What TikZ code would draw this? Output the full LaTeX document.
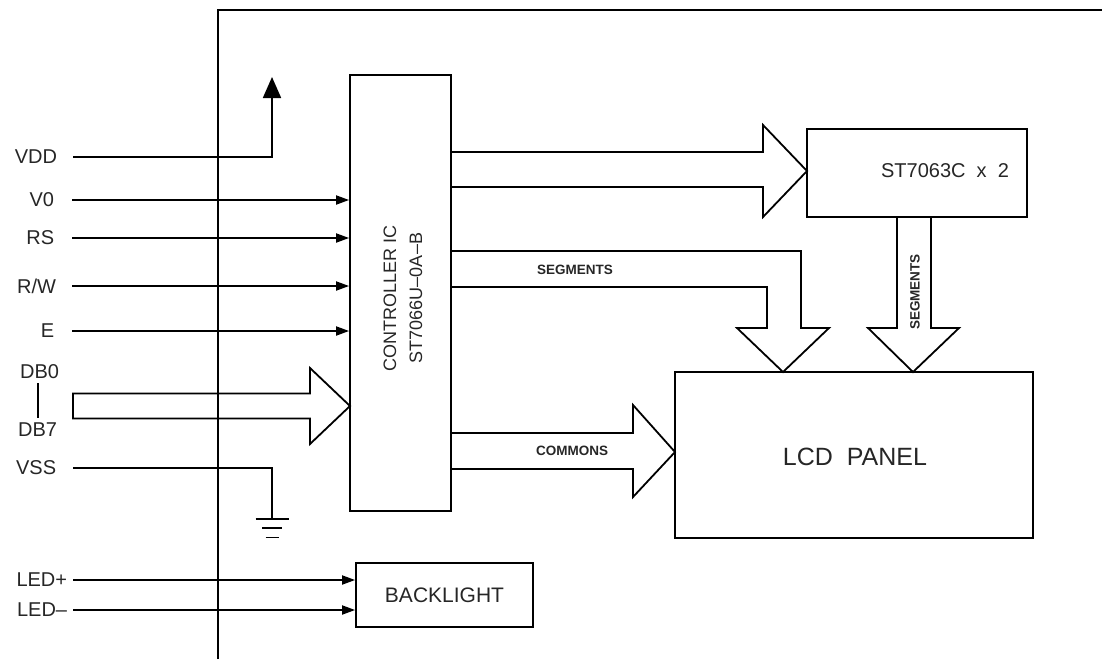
\documentclass[tikz,border=0pt]{standalone}
\usepackage{fontspec}
\setmainfont{Liberation Sans}
\usetikzlibrary{arrows.meta}
\begin{document}
\begin{tikzpicture}[x=1pt,y=-1pt, line width=1.8pt, line join=miter,
  lbl/.style={font=\fontsize{20}{22}\selectfont, inner sep=0pt, text=black!85},
  box/.style={draw, line width=1.8pt, inner sep=0pt},
  sig/.style={-{Triangle[length=13pt,width=9pt]}},
  small/.style={font=\fontsize{13.5}{14}\selectfont\bfseries, inner sep=0pt, text=black!85}]
\useasboundingbox (0,0) rectangle (1102,659);

% outer frame
\draw (218,659) -- (218,10) -- (1102,10);

% blocks
\node[box, minimum width=101pt, minimum height=436pt] (ctrl) at (400.5,293) {};
\node[lbl, rotate=90, align=center, font=\fontsize{18}{26}\selectfont] (ctrltxt) at (403,298) {CONTROLLER IC\\ST7066U–0A–B};
\node[box, minimum width=220pt, minimum height=88pt] (drv) at (917,173) {};
\node[lbl] (drvtxt) at (945,171) {ST7063C~~x~~2};
\node[box, minimum width=358pt, minimum height=166pt] (lcd) at (854,455) {};
\node[lbl, font=\fontsize{25}{28}\selectfont] (lcdtxt) at (855,457) {LCD~~PANEL};
\node[box, minimum width=177pt, minimum height=64pt, font=\fontsize{21}{22}\selectfont, text=black!85] (bl) at (444.5,595) {BACKLIGHT};

% VDD
\node[lbl, anchor=east] (vdd) at (58,157) {VDD};
\coordinate (vdds) at (73,157);
\coordinate (vddt) at (272,77);
\draw[-{Triangle[length=21pt,width=18pt]}] (vdds) -| (vddt);

% single inputs
\node[lbl, anchor=east] (v0) at (55,200) {V0};
\coordinate (v0s) at (72,200);
\draw[sig] (v0s) -- (v0s -| ctrl.west);
\node[lbl, anchor=east] (rs) at (55,238) {RS};
\coordinate (rss) at (72,238);
\draw[sig] (rss) -- (rss -| ctrl.west);
\node[lbl, anchor=east] (rw) at (57,286) {R/W};
\coordinate (rws) at (72,286);
\draw[sig] (rws) -- (rws -| ctrl.west);
\node[lbl, anchor=east] (e) at (55,331) {E};
\coordinate (es) at (72,331);
\draw[sig] (es) -- (es -| ctrl.west);

% data bus
\node[lbl, anchor=east] (db0) at (60,372) {DB0};
\node[lbl, anchor=east] (db7) at (58,430) {DB7};
\draw (38,383) -- (38,418);
\coordinate (dbtip) at (350,406);
\draw (73,393.5) -- (310,393.5) -- (310,368) -- (dbtip) -- (310,444) -- (310,418.5) -- (73,418.5) -- cycle;

% VSS and ground
\node[lbl, anchor=east] (vss) at (57,468) {VSS};
\coordinate (vsss) at (73,468);
\coordinate (gnd) at (272,519);
\draw (vsss) -| (gnd);
\draw (255.5,519) -- (288.5,519);
\draw (262,528) -- (282,528);
\draw (265.5,537.5) -- (278.5,537.5);

% backlight
\node[lbl, anchor=east] (ledp) at (68,580) {LED+};
\coordinate (ledps) at (73,580);
\draw[sig] (ledps) -- (ledps -| bl.west);
\node[lbl, anchor=east] (ledm) at (68,610) {LED–};
\coordinate (ledms) at (73,610);
\draw[sig] (ledms) -- (ledms -| bl.west);

% controller -> driver block arrow
\coordinate (drvtip) at (807,171);
\draw (ctrl.east |- 0,152) -- (763,152) -- (763,125) -- (drvtip) -- (763,217) -- (763,187) -- (ctrl.east |- 0,187);

% controller -> LCD segments (bent block arrow)
\coordinate (segtip) at (783,372);
\draw (ctrl.east |- 0,251) -- (801,251) -- (801,328) -- (829,328) -- (segtip) -- (737,328) -- (767,328) -- (767,287) -- (ctrl.east |- 0,287);
\node[small] (seglbl) at (575,270) {SEGMENTS};

% driver -> LCD segments
\coordinate (seg2tip) at (913,372);
\draw (897,217) -- (897,328) -- (868,328) -- (seg2tip) -- (959,328) -- (931,328) -- (931,217);
\node[small, rotate=90] (seg2lbl) at (915,292) {SEGMENTS};

% commons
\coordinate (comtip) at (675,452);
\draw (ctrl.east |- 0,433) -- (633,433) -- (633,405) -- (comtip) -- (633,497) -- (633,469) -- (ctrl.east |- 0,469);
\node[small] (comlbl) at (572,451) {COMMONS};
\end{tikzpicture}
\end{document}
